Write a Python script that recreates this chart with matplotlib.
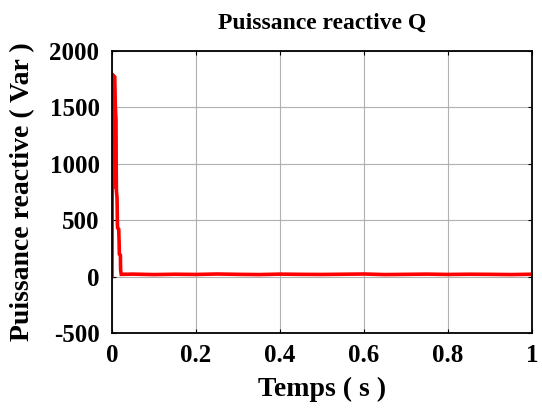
import matplotlib
matplotlib.use("Agg")
import matplotlib.pyplot as plt
import numpy as np

# transient part (time in s, Q in Var)
t_transient = [0.0, 0.0005, 0.0025, 0.003, 0.004, 0.0065, 0.008, 0.009, 0.0095,
               0.010, 0.0105, 0.012, 0.013, 0.0135, 0.016, 0.017, 0.0175, 0.020, 0.0205, 0.022]
q_transient = [0, 780, 790, 1700, 1780, 1770, 1500, 1420, 1400,
               1000, 760, 700, 450, 430, 420, 300, 200, 190, 60, 20]
# steady-state part
t_steady = [0.05, 0.1, 0.15, 0.2, 0.25, 0.3, 0.35, 0.4, 0.45, 0.5, 0.55, 0.6,
            0.65, 0.7, 0.75, 0.8, 0.85, 0.9, 0.95, 1.0]
q_steady = [22, 18, 21, 19, 23, 20, 18, 22, 20, 19, 21, 23, 18, 20, 22, 19, 21, 20, 18, 21]

x_ticks = [0, 0.2, 0.4, 0.6, 0.8, 1]
x_ticklabels = ["0", "0.2", "0.4", "0.6", "0.8", "1"]
y_ticks = [-500, 0, 500, 1000, 1500, 2000]
y_ticklabels = ["-500", "0", "500", "1000", "1500", "2000"]

t = t_transient + t_steady
q = q_transient + q_steady

plt.rcParams['font.family'] = ['Liberation Serif', 'DejaVu Serif']
plt.rcParams['font.weight'] = 'bold'
plt.rcParams['axes.unicode_minus'] = False

fig = plt.figure(figsize=(5.42, 4.13), dpi=100)
ax = fig.add_axes([112/542, 1-333/413, 420/542, 282/413])
ax.plot(t, q, color='#ff0000', linewidth=2.6, solid_joinstyle='miter')
ax.set_xlim(0, 1)
ax.set_ylim(-500, 2000)
ax.set_xticks(x_ticks)
ax.set_xticklabels(x_ticklabels)
ax.set_yticks(y_ticks)
ax.set_yticklabels(y_ticklabels)
ax.grid(True, color='#b0b0b0', linewidth=0.8)
ax.tick_params(direction='in', length=3, width=0.8, labelsize=18, top=True, right=True)
ax.tick_params(axis='x', pad=8)
ax.tick_params(axis='y', pad=9)
for s in ax.spines.values():
    s.set_linewidth(1.3)
    s.set_color('black')
for lbl in ax.get_xticklabels() + ax.get_yticklabels():
    lbl.set_fontweight('bold')
ax.set_title("Puissance reactive Q", fontsize=17, fontweight='bold', pad=16)
ax.set_xlabel("Temps ( s )", fontsize=20, fontweight='bold', labelpad=7)
ax.set_ylabel("Puissance reactive ( Var )", fontsize=20, fontweight='bold', labelpad=10)
fig.savefig("out.png", dpi=100)
